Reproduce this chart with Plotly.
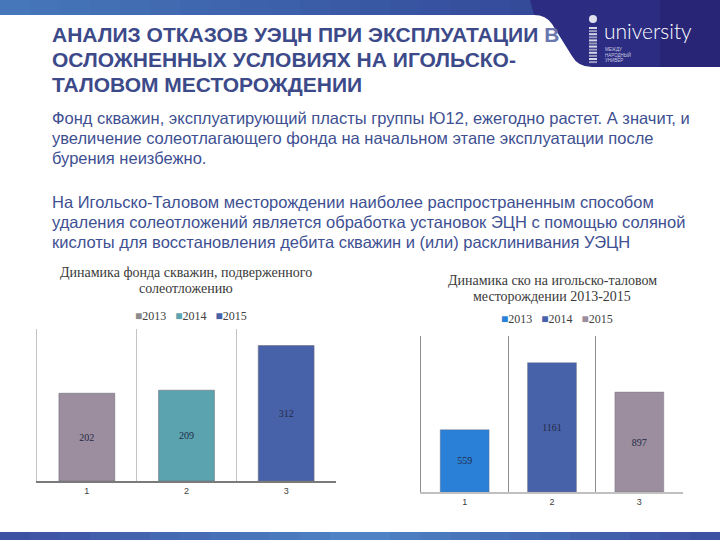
import plotly.graph_objects as go

# ---------------- data ----------------
categories = [1, 2, 3]
years_left = ["2013", "2014", "2015"]
fund_values = [202, 209, 312]          # Динамика фонда скважин, подверженного солеотложению
years_right = ["2013", "2014", "2015"]
sko_values = [559, 1161, 897]          # Динамика ско на игольско-таловом месторождении
tick_labels = ["1", "2", "3"]

left_colors = ["#9C8E9E", "#5AA3AF", "#4862AA"]
left_legend_colors = ["#8C8C8C", "#5AA3AF", "#4862AA"]
right_colors = ["#2A80D6", "#4862AA", "#9C8E9E"]

W, H = 720, 540


def px(x):
    return x / W


def py(y):
    return 1 - y / H


fig = go.Figure()

# ---------------- bars ----------------
for i, c in enumerate(categories):
    fig.add_trace(go.Bar(
        x=[c], y=[fund_values[i]], name=years_left[i], width=0.56,
        marker=dict(color=left_colors[i], line=dict(color="#6f6f7a", width=0.6)),
        text=[str(fund_values[i])], textposition="inside", insidetextanchor="middle",
        textangle=0, textfont=dict(family="Liberation Serif, serif", size=10, color="#232a45"),
        xaxis="x", yaxis="y", showlegend=False, hoverinfo="skip"))
for i, c in enumerate(categories):
    fig.add_trace(go.Bar(
        x=[c], y=[sko_values[i]], name=years_right[i], width=0.56,
        marker=dict(color=right_colors[i], line=dict(color="#6f6f7a", width=0.4)),
        text=[str(sko_values[i])], textposition="inside", insidetextanchor="middle",
        textangle=0, textfont=dict(family="Liberation Serif, serif", size=10, color="#232a45"),
        xaxis="x2", yaxis="y2", showlegend=False, hoverinfo="skip"))

# ---------------- axes ----------------
axis_common = dict(range=[0.5, 3.5], tickmode="array", tickvals=categories, ticktext=tick_labels,
                   showgrid=False, zeroline=False, ticks="", fixedrange=True,
                   tickfont=dict(family="Liberation Sans, Arial, sans-serif", size=9, color="#404040"))
fig.update_layout(
    xaxis=dict(domain=[px(37), px(336)], anchor="y", showline=True, linecolor="#7a7a7a", linewidth=2,
               minor=dict(tick0=0.5, dtick=1, showgrid=True, gridcolor="#c4c4c4", gridwidth=1),
               **axis_common),
    yaxis=dict(domain=[py(481), py(329)], anchor="x", range=[0, 350], showticklabels=False,
               showgrid=False, zeroline=False, showline=True, linecolor="#c4c4c4", linewidth=1,
               fixedrange=True),
    xaxis2=dict(domain=[px(421), px(683)], anchor="y2", showline=True, linecolor="#c0c0c0", linewidth=1.5,
                minor=dict(tick0=0.5, dtick=1, showgrid=True, gridcolor="#8e8e8e", gridwidth=1),
                **axis_common),
    yaxis2=dict(domain=[py(492), py(336)], anchor="x2", range=[0, 1400], showticklabels=False,
                showgrid=False, zeroline=False, showline=True, linecolor="#8e8e8e", linewidth=1,
                fixedrange=True),
    barmode="overlay",
    width=W, height=H,
    margin=dict(l=0, r=0, t=0, b=0),
    paper_bgcolor="white", plot_bgcolor="white",
    showlegend=False,
)

# ---------------- slide decoration ----------------
shapes = []


def hexmix(a, b, t):
    a = [int(a[i:i + 2], 16) for i in (1, 3, 5)]
    b = [int(b[i:i + 2], 16) for i in (1, 3, 5)]
    return "#" + "".join(f"{round(a[k] + (b[k] - a[k]) * t):02x}" for k in range(3))


# top band gradient
n = 24
for k in range(n):
    shapes.append(dict(type="rect", xref="paper", yref="paper", x0=k / n, x1=(k + 1) / n + 0.002,
                       y0=py(15), y1=1, line=dict(width=0),
                       fillcolor=hexmix("#4677bb", "#2d3b8e", k / (n - 1)), layer="above"))


def path(pts):
    s = ""
    for cmd, *xy in pts:
        if cmd == "Z":
            s += " Z"
        else:
            coords = " ".join(f"{px(xy[j]):.4f},{py(xy[j + 1]):.4f}" for j in range(0, len(xy), 2))
            s += f" {cmd} {coords}"
    return s.strip()


logo_path = path([("M", 530, 0), ("L", 720, 0), ("L", 720, 67), ("L", 592, 67),
                  ("Q", 578, 67, 572, 56), ("L", 552, 24), ("Q", 546, 15, 534, 15), ("Z",)])
shapes.append(dict(type="path", xref="paper", yref="paper", path=logo_path,
                   fillcolor="#2b2c82", line=dict(width=0), layer="above"))
shapes.append(dict(type="rect", xref="paper", yref="paper", x0=px(660), x1=1, y0=py(67), y1=1,
                   fillcolor="#27226f", line=dict(width=0), opacity=0.6, layer="above"))

# logo stripes
for k in range(12):
    y0 = 27 + k * 3.1
    shapes.append(dict(type="rect", xref="paper", yref="paper", x0=px(589), x1=px(597),
                       y0=py(y0 + 2), y1=py(y0), fillcolor="#d8d8e8" if k % 2 == 0 else "#9a9ac0",
                       line=dict(width=0), layer="above"))
shapes.append(dict(type="circle", xref="paper", yref="paper", x0=px(589), x1=px(597),
                   y0=py(23), y1=py(15), fillcolor="#e0e0ee", line=dict(width=0), layer="above"))

# footer band
m = 24
for k in range(m):
    t = k / (m - 1)
    col = hexmix("#3a4c9e", "#4f84c6", 1 - abs(2 * t - 1) * 0.9)
    shapes.append(dict(type="rect", xref="paper", yref="paper", x0=k / m, x1=(k + 1) / m + 0.002,
                       y0=0, y1=py(532), line=dict(width=0), fillcolor=col, layer="above"))

fig.update_layout(shapes=shapes)

# ---------------- texts ----------------
ann = []
title_font = dict(family="Liberation Sans, Arial, sans-serif", size=21, color="#3d4a8a")
ann.append(dict(x=px(50), y=py(35), text="<b>АНАЛИЗ ОТКАЗОВ УЭЦН ПРИ ЭКСПЛУАТАЦИИ <span style='color:#6b78b0'>В</span></b>"))
ann.append(dict(x=px(50), y=py(59), text="<b>ОСЛОЖНЕННЫХ УСЛОВИЯХ НА ИГОЛЬСКО-</b>"))
ann.append(dict(x=px(50), y=py(84), text="<b>ТАЛОВОМ МЕСТОРОЖДЕНИИ</b>"))
for a in ann:
    a.update(xref="paper", yref="paper", xanchor="left", yanchor="middle", showarrow=False,
             font=title_font)

body_font = dict(family="Liberation Sans, Arial, sans-serif", size=16.5, color="#3e5092")
body_lines = [
    (118, "Фонд скважин, эксплуатирующий пласты группы Ю12, ежегодно растет. А значит, и"),
    (138, "увеличение солеотлагающего фонда на начальном этапе эксплуатации после"),
    (158, "бурения неизбежно."),
    (202, "На Игольско-Таловом месторождении наиболее распространенным способом"),
    (222, "удаления солеотложений является обработка установок ЭЦН с помощью соляной"),
    (242, "кислоты для восстановления дебита скважин и (или) расклинивания УЭЦН"),
]
for yy, t in body_lines:
    ann.append(dict(x=px(50), y=py(yy), text=t, xref="paper", yref="paper", xanchor="left",
                    yanchor="middle", showarrow=False, font=body_font))

# logo text
ann.append(dict(x=px(602), y=py(30), text="university", xref="paper", yref="paper", xanchor="left",
                yanchor="middle", showarrow=False,
                font=dict(family="Lato, Roboto, sans-serif", size=21, color="white", weight=300)))
for k, t in enumerate(["МЕЖДУ", "НАРОДНЫЙ", "УНИВЕР"]):
    ann.append(dict(x=px(603), y=py(49 + k * 5.5), text=t, xref="paper", yref="paper", xanchor="left",
                    yanchor="middle", showarrow=False,
                    font=dict(family="Liberation Sans, sans-serif", size=4.5, color="#c8c8e0")))

# chart titles
ct_font = dict(family="Liberation Serif, Times New Roman, serif", size=14, color="#3a3a3a")
for yy, t in [(272, "Динамика фонда скважин, подверженного"), (288, "солеотложению")]:
    ann.append(dict(x=px(186), y=py(yy), text=t, xref="paper", yref="paper", xanchor="center",
                    yanchor="middle", showarrow=False, font=ct_font))
for yy, t in [(280, "Динамика ско на игольско-таловом"), (296, "месторождении 2013-2015")]:
    ann.append(dict(x=px(552), y=py(yy), text=t, xref="paper", yref="paper", xanchor="center",
                    yanchor="middle", showarrow=False, font=ct_font))


# legends
def legend_text(names, colors):
    parts = [f"<span style='color:{c}'>■</span>{nm}" for nm, c in zip(names, colors)]
    return "   ".join(parts)


lg_font = dict(family="Liberation Serif, Times New Roman, serif", size=12, color="#404040")
ann.append(dict(x=px(191), y=py(316), text=legend_text(years_left, left_legend_colors), xref="paper",
                yref="paper", xanchor="center", yanchor="middle", showarrow=False, font=lg_font))
ann.append(dict(x=px(557), y=py(319), text=legend_text(years_right, right_colors), xref="paper",
                yref="paper", xanchor="center", yanchor="middle", showarrow=False, font=lg_font))

fig.update_layout(annotations=ann)

fig.write_html("out.html", config={"displayModeBar": False},
               post_script="document.body.style.margin='0';")
